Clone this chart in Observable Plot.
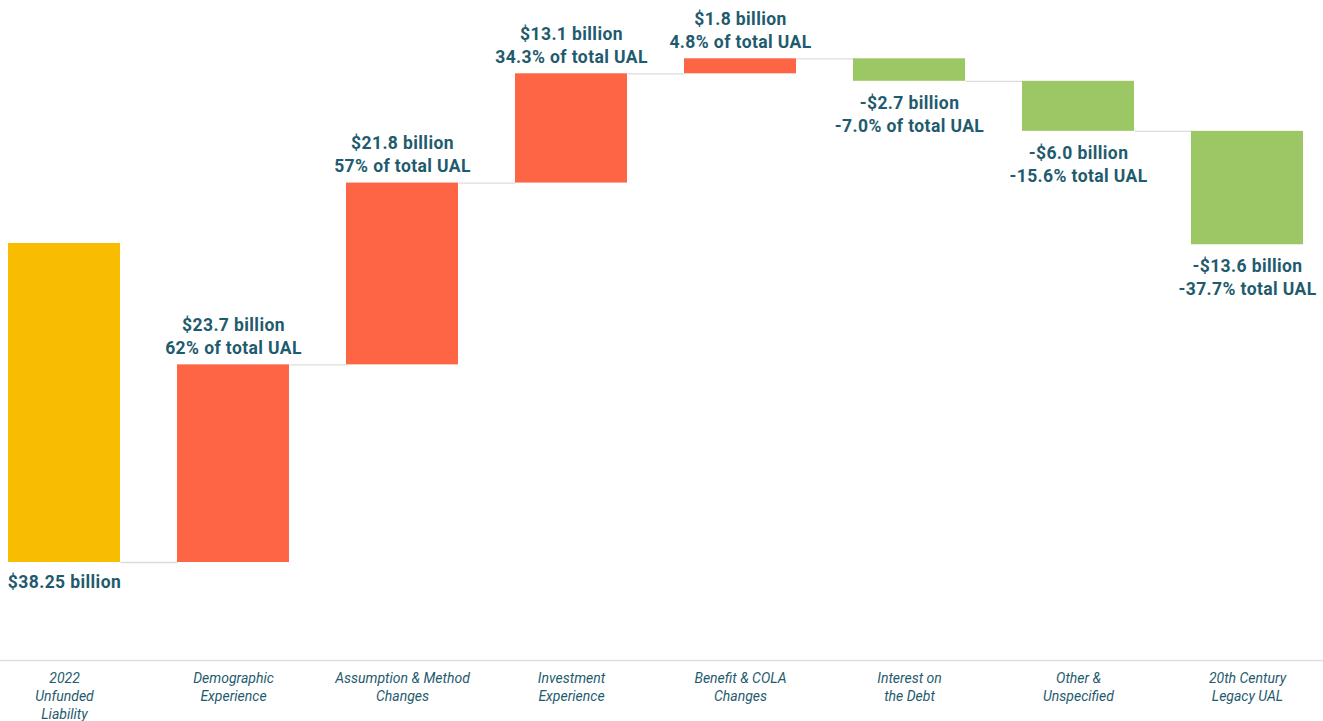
<!DOCTYPE html>
<html>
<head>
<meta charset="utf-8">
<script src="https://cdn.jsdelivr.net/npm/d3@7"></script>
<script src="https://cdn.jsdelivr.net/npm/@observablehq/plot@0.6"></script>
<style>
  html, body { margin: 0; padding: 0; background: #fff; }
  #chart { width: 1323px; height: 721px; }
  #chart svg g[font-weight="700"] { letter-spacing: 0.4px; }
</style>
</head>
<body>
<div id="chart"></div>
<script>
const categories = [
  "2022\nUnfunded\nLiability",
  "Demographic\nExperience",
  "Assumption & Method\nChanges",
  "Investment\nExperience",
  "Benefit & COLA\nChanges",
  "Interest on\nthe Debt",
  "Other &\nUnspecified",
  "20th Century\nLegacy UAL"
];
const values = [38.25, 23.7, 21.8, 13.1, 1.8, -2.7, -6.0, -13.6];
const kinds = ["total", "increase", "increase", "increase", "increase", "decrease", "decrease", "decrease"];
const valueLabels = [
  "$38.25 billion",
  "$23.7 billion\n62% of total UAL",
  "$21.8 billion\n57% of total UAL",
  "$13.1 billion\n34.3% of total UAL",
  "$1.8 billion\n4.8% of total UAL",
  "-$2.7 billion\n-7.0% of total UAL",
  "-$6.0 billion\n-15.6% total UAL",
  "-$13.6 billion\n-37.7% total UAL"
];

// Build waterfall rows
let run = 0;
const rows = categories.map((cat, i) => {
  let y1, y2;
  if (i === 0) { y1 = 0; y2 = values[0]; }
  else { y1 = run; y2 = run + values[i]; run += values[i]; }
  return {cat, value: values[i], kind: kinds[i], label: valueLabels[i], y1, y2};
});
const connectors = rows.slice(0, -1).map((r, i) => ({from: r.cat, to: rows[i + 1].cat, level: rows[i + 1].y1}));

const textColor = "#1f5b6e";
const yMin = -11.75, yMax = 67.39;
const padInner = 0.337;

const chart = Plot.plot({
  width: 1323,
  height: 721,
  marginTop: 0,
  marginBottom: 61,
  marginLeft: 8,
  marginRight: 19,
  style: {fontFamily: "Roboto, 'DejaVu Sans', sans-serif", background: "#fff"},
  x: {domain: categories, paddingInner: padInner, paddingOuter: 0, axis: null},
  y: {domain: [yMin, yMax], axis: null},
  color: {domain: ["total", "increase", "decrease"], range: ["#f8bd00", "#fe6545", "#9bc865"]},
  marks: [
    Plot.link(connectors, {
      x1: "from", x2: "to", y1: "level", y2: "level", stroke: "#dcdcdc", strokeWidth: 1.3,
      render: (index, scales, values, dims, context, next) => {
        const g = next(index, scales, values, dims, context);
        let bw = scales.x && scales.x.bandwidth;
        if (typeof bw === "function") bw = bw();
        if (!(bw > 0)) bw = (dims.width - dims.marginLeft - dims.marginRight) / (categories.length - padInner) * (1 - padInner);
        d3.select(g).selectAll("path").each(function(d, k) {
          const i = index[k];
          const x1 = values.x1[i], x2 = values.x2[i], y = values.y1[i];
          if ([x1, x2, y].every(Number.isFinite)) {
            d3.select(this).attr("d", `M${x1 + bw / 2},${y}L${x2 - bw / 2},${y}`);
          }
        });
        return g;
      }
    }),
    Plot.barY(rows, {x: "cat", y1: "y1", y2: "y2", fill: "kind"}),
    // labels above increases
    Plot.text(rows.filter(d => d.kind === "increase"), {
      x: "cat", y: "y2", text: "label", lineAnchor: "bottom", dy: -11,
      fill: textColor, fontSize: 17.5, fontWeight: 700, lineHeight: 1.32
    }),
    // labels below decreases
    Plot.text(rows.filter(d => d.kind === "decrease"), {
      x: "cat", y: "y2", text: "label", lineAnchor: "top", dy: 11,
      fill: textColor, fontSize: 17.5, fontWeight: 700, lineHeight: 1.32
    }),
    // total label below bar
    Plot.text(rows.filter(d => d.kind === "total"), {
      x: "cat", y: "y1", text: "label", lineAnchor: "top", dy: 9,
      fill: textColor, fontSize: 17.5, fontWeight: 700, lineHeight: 1.32
    }),
    // axis line spanning full width
    Plot.ruleY([yMin], {
      stroke: "#dddddd", strokeWidth: 1.5,
      render: (index, scales, values, dims, context, next) => {
        const g = next(index, scales, values, dims, context);
        d3.select(g).selectAll("line").attr("x1", 0).attr("x2", dims.width);
        return g;
      }
    }),
    // category labels
    Plot.text(rows, {
      x: "cat", frameAnchor: "bottom", text: "cat", lineAnchor: "top", dy: 10,
      fill: textColor, fontSize: 14, fontStyle: "italic", lineHeight: 1.29
    })
  ]
});
document.getElementById("chart").appendChild(chart);
</script>
</body>
</html>
